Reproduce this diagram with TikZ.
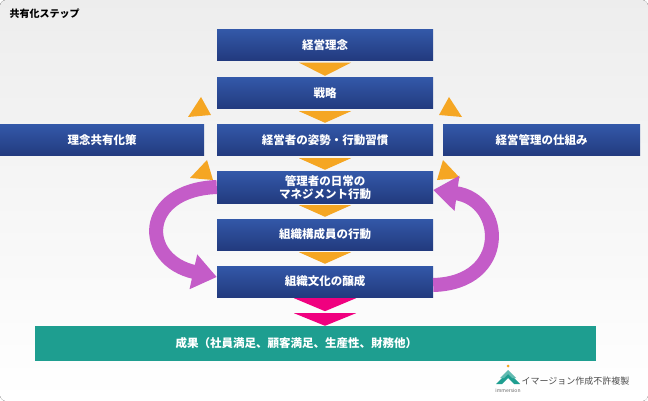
\documentclass[tikz,border=0pt]{standalone}
\usepackage{fontspec}
\setmainfont{Noto Sans CJK JP}
\usetikzlibrary{arrows.meta,calc}
\definecolor{boxtop}{HTML}{3358A8}
\definecolor{boxbot}{HTML}{223A7E}
\definecolor{tealbox}{HTML}{1E9E90}
\definecolor{arrorange}{HTML}{F5A623}
\definecolor{arrpink}{HTML}{F0007F}
\definecolor{loopvio}{HTML}{C45CC8}
\tikzset{
  stepbox/.style={draw=none,top color=boxtop,bottom color=boxbot,text=white,
    minimum height=31,inner sep=0pt,font=\fontsize{11.5}{13}\selectfont\bfseries,align=center},
  looparr/.style={draw=loopvio,line width=14,-{Triangle[width=34,length=24]}}
}
\begin{document}
\begin{tikzpicture}[x=1pt,y=-1pt]
  \useasboundingbox (0,0) rectangle (648,401);
  \fill[top color=black!7,bottom color=white,rounded corners=6] (0,0) rectangle (648,401);
  \node[anchor=west,font=\bfseries\fontsize{10}{12}\selectfont] (title) at (6,14) {共有化ステップ};

  % center column
  \node[stepbox,minimum width=216] (rinen) at (325,45) {経営理念};
  \node[stepbox,minimum width=216] (senryaku) at (325,93.5) {戦略};
  \node[stepbox,minimum width=216] (shisei) at (325,140.5) {経営者の姿勢・行動習慣};
  \node[stepbox,minimum width=216] (kanri) at (325,187.5) {管理者の日常の\\マネジメント行動};
  \node[stepbox,minimum width=216] (kousei) at (325,234.5) {組織構成員の行動};
  \node[stepbox,minimum width=216] (bunka) at (325,281.5) {組織文化の醸成};
  % side boxes
  \node[stepbox,minimum width=204] (kyouyu) at (102,140.5) {理念共有化策};
  \node[stepbox,minimum width=197] (shikumi) at (541.5,140.5) {経営管理の仕組み};
  % result
  \node[fill=tealbox,text=white,minimum width=561,minimum height=35,inner sep=0pt,
    font=\fontsize{11.5}{13}\selectfont\bfseries] (seika) at (315.5,343.5) {};
  \node[anchor=west,text=white,font=\fontsize{11.5}{13}\selectfont\bfseries] (seikatext) at (172,343.5)
    {成果（社員満足、顧客満足、生産性、財務他）};

  % down arrows
  \foreach \a/\b in {rinen/senryaku,senryaku/shisei,shisei/kanri,kanri/kousei,kousei/bunka}{
    \fill[arrorange] ($(\a.south)+(-26,2)$) -- ($(\a.south)+(26,2)$) -- ($(\b.north)+(0,-2)$) -- cycle;
  }
  \fill[arrpink] ($(bunka.south)+(-31,1)$) -- ($(bunka.south)+(31,1)$) -- ($(bunka.south)+(0,14)$) -- cycle;
  \fill[arrpink] ($(bunka.south)+(-31,16)$) -- ($(bunka.south)+(31,16)$) -- (bunka.south |- seika.north) -- cycle;

  % side arrowheads
  \fill[arrorange] (201,97) -- (188,117) -- (211,115) -- cycle;
  \fill[arrorange] (449,97) -- (462,117) -- (439,115) -- cycle;
  \fill[arrorange] (207,160) -- (190,178) -- (213,180) -- cycle;
  \fill[arrorange] (443,160) -- (460,178) -- (437,180) -- cycle;

  % loops
  \draw[looparr] (kanri.west |- 0,187) .. controls (140,190) and (140,260) .. (bunka.west |- 0,277);
  \draw[looparr] (bunka.east |- 0,285) .. controls (510,283) and (505,200) .. (kanri.east |- 0,190);

  % logo
  \fill[tealbox] (496,384) -- (508,372) -- (520,384) -- (514,384) -- (508,378) -- (502,384) -- cycle;
  \fill[tealbox!70] (500,378) -- (508,370) -- (516,378) -- (512,378) -- (508,374) -- (504,378) -- cycle;
  \fill[arrorange] (508,366) circle (1.5);
  \node[font=\fontsize{5}{6}\selectfont,text=black!60] (immersion) at (508,391) {immersion};
  \node[anchor=west,font=\fontsize{9}{11}\selectfont,text=black!70] (copy) at (518,381) {イマージョン作成不許複製};
\end{tikzpicture}
\end{document}
